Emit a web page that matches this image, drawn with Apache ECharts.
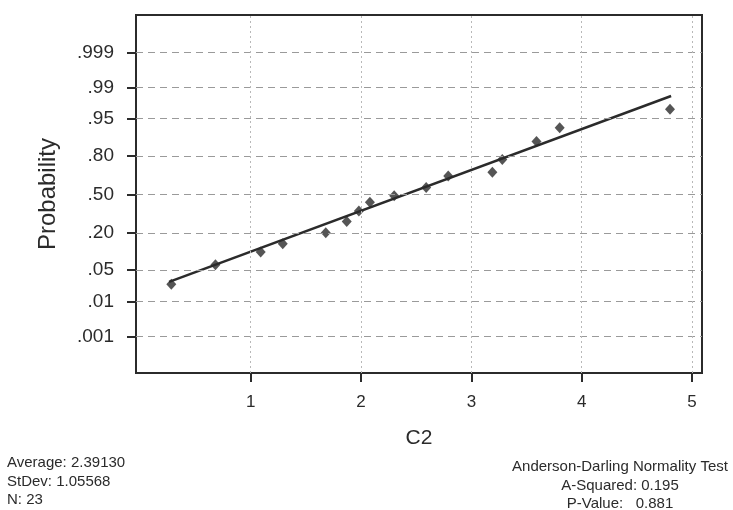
<!DOCTYPE html>
<html>
<head>
<meta charset="utf-8">
<script src="https://cdn.jsdelivr.net/npm/echarts@6/dist/echarts.min.js"></script>
<style>
	html, body { margin: 0; padding: 0; background: #fff; }
	#chart { width: 733px; height: 510px; }
</style>
</head>
<body>
<div id="chart"></div>
<script>
const c2Values = [0.28, 0.68, 1.09, 1.29, 1.68, 1.87, 1.98, 2.08, 2.30, 2.59, 2.79, 3.19, 3.28, 3.59, 3.80, 4.80];
const normalScores = [-1.95, -1.53, -1.25, -1.07, -0.83, -0.59, -0.36, -0.17, -0.03, 0.15, 0.40, 0.48, 0.76, 1.15, 1.45, 1.85];

// fitted line end points
const fitX = [0.26, 4.81];
const fitY = [-1.90, 2.14];

// probability ticks (label and normal score)
const probLabels = ['.001', '.01', '.05', '.20', '.50', '.80', '.95', '.99', '.999'];
const probZ = [-3.090, -2.326, -1.645, -0.842, 0, 0.842, 1.645, 2.326, 3.090];

const xTicks = [1, 2, 3, 4, 5];

const statsLeft = ['Average: 2.39130', 'StDev: 1.05568', 'N: 23'];
const statsRight = ['Anderson-Darling Normality Test', 'A-Squared: 0.195', 'P-Value:   0.881'];

const font = '"Liberation Sans", Arial, sans-serif';
const ink = '#2b2b2b';

const chart = echarts.init(document.getElementById('chart'), null, { renderer: 'canvas' });

const points = c2Values.map((v, i) => [v, normalScores[i]]);
const fitLine = fitX.map((v, i) => [v, fitY[i]]);

const gridLines = [];
probZ.forEach(z => gridLines.push({ yAxis: z, lineStyle: { type: [7, 5], color: '#9a9a9a', width: 1 } }));
xTicks.forEach(x => gridLines.push({ xAxis: x, lineStyle: { type: [2, 3], color: '#b8b8b8', width: 1 } }));

const option = {
	animation: false,
	backgroundColor: '#fff',
	grid: {
		left: 136,
		right: 31,
		top: 15,
		bottom: 137,
		show: true,
		borderColor: ink,
		borderWidth: 2,
		backgroundColor: 'transparent'
	},
	xAxis: {
		type: 'value',
		min: -0.04,
		max: 5.09,
		name: 'C2',
		nameLocation: 'middle',
		nameGap: 55,
		nameTextStyle: { fontFamily: font, fontSize: 21, color: ink },
		axisLine: { show: true, onZero: false, lineStyle: { color: ink, width: 2 } },
		axisTick: { show: true, customValues: xTicks, length: 9, lineStyle: { color: ink, width: 2 } },
		axisLabel: {
			customValues: xTicks,
			margin: 21,
			fontFamily: font,
			fontSize: 17,
			color: ink
		},
		splitLine: { show: false }
	},
	yAxis: {
		type: 'value',
		min: -3.88,
		max: 3.9,
		name: 'Probability',
		nameLocation: 'middle',
		nameRotate: 90,
		nameGap: 76,
		nameTextStyle: { fontFamily: font, fontSize: 24, color: ink },
		axisLine: { show: true, onZero: false, lineStyle: { color: ink, width: 2 } },
		axisTick: { show: true, customValues: probZ, length: 9, lineStyle: { color: ink, width: 2 } },
		axisLabel: {
			customValues: probZ,
			margin: 22,
			fontFamily: font,
			fontSize: 19,
			color: ink,
			formatter(value) {
				let best = 0;
				probZ.forEach((z, i) => {
					if (Math.abs(z - value) < Math.abs(probZ[best] - value)) best = i;
				});
				return probLabels[best];
			}
		},
		splitLine: { show: false }
	},
	series: [
		{
			name: 'grid',
			type: 'line',
			data: [],
			silent: true,
			z: 1,
			markLine: {
				silent: true,
				symbol: 'none',
				label: { show: false },
				data: gridLines
			}
		},
		{
			name: 'fit',
			type: 'line',
			data: fitLine,
			showSymbol: false,
			symbol: 'none',
			z: 3,
			lineStyle: { color: ink, width: 2.5 }
		},
		{
			name: 'C2',
			type: 'scatter',
			data: points,
			symbol: 'diamond',
			symbolSize: [10, 11],
			z: 4,
			itemStyle: { color: ink }
		}
	],
	graphic: [
		{
			type: 'text',
			x: 7,
			y: 454,
			style: {
				text: statsLeft.join('\n'),
				fontFamily: font,
				fontSize: 15,
				lineHeight: 18.5,
				fill: ink
			}
		},
		{
			type: 'text',
			x: 620,
			y: 458,
			style: {
				text: statsRight.join('\n'),
				fontFamily: font,
				fontSize: 15,
				lineHeight: 18.5,
				align: 'center',
				fill: ink
			}
		}
	]
};

chart.setOption(option);
</script>
</body>
</html>
